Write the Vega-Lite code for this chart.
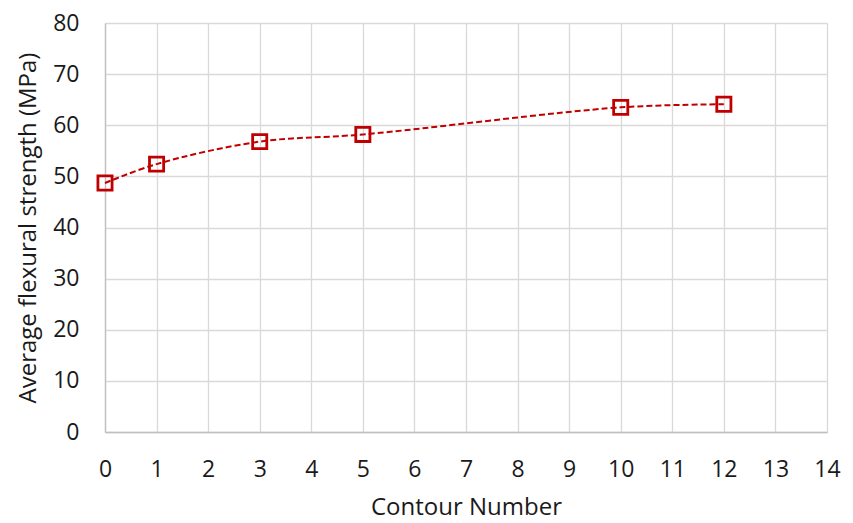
{
  "$schema": "https://vega.github.io/schema/vega-lite/v6.json",
  "width": 722,
  "height": 409,
  "autosize": {"type": "none"},
  "padding": {"left": 105, "top": 23, "right": 26, "bottom": 91},
  "background": "white",
  "config": {
    "view": {"stroke": null},
    "font": "Open Sans",
    "axis": {
      "labelFont": "Open Sans",
      "titleFont": "Open Sans",
      "labelFontSize": 23,
      "titleFontSize": 24,
      "labelColor": "#1a1a1a",
      "titleColor": "#1a1a1a",
      "titleFontWeight": "normal",
      "labelFlush": false,
      "labelOverlap": false,
      "gridColor": "#d9d9d9",
      "gridWidth": 1.3,
      "domainColor": "#bfbfbf",
      "domainWidth": 1.3,
      "ticks": false
    }
  },
  "data": {
    "values": [
      {"contour": 0, "strength": 48.7},
      {"contour": 1, "strength": 52.4},
      {"contour": 3, "strength": 56.8},
      {"contour": 5, "strength": 58.2},
      {"contour": 10, "strength": 63.5},
      {"contour": 12, "strength": 64.1}
    ]
  },
  "encoding": {
    "x": {
      "field": "contour",
      "type": "quantitative",
      "scale": {"domain": [0, 14], "nice": false, "zero": false},
      "axis": {
        "title": "Contour Number",
        "values": [0,1,2,3,4,5,6,7,8,9,10,11,12,13,14],
        "labelPadding": 26,
        "titlePadding": 14,
        "grid": true
      }
    },
    "y": {
      "field": "strength",
      "type": "quantitative",
      "scale": {"domain": [0, 80], "nice": false},
      "axis": {
        "title": "Average flexural strength (MPa)",
        "values": [0,10,20,30,40,50,60,70,80],
        "labelPadding": 26,
        "titlePadding": 12,
        "grid": true
      }
    }
  },
  "layer": [
    {
      "mark": {
        "type": "line",
        "interpolate": "catmull-rom",
        "color": "#C00000",
        "strokeWidth": 2,
        "strokeDash": [6, 3]
      }
    },
    {
      "mark": {
        "type": "point",
        "shape": "square",
        "size": 200,
        "filled": false,
        "stroke": "#C00000",
        "strokeWidth": 2.8,
        "opacity": 1
      }
    }
  ]
}
